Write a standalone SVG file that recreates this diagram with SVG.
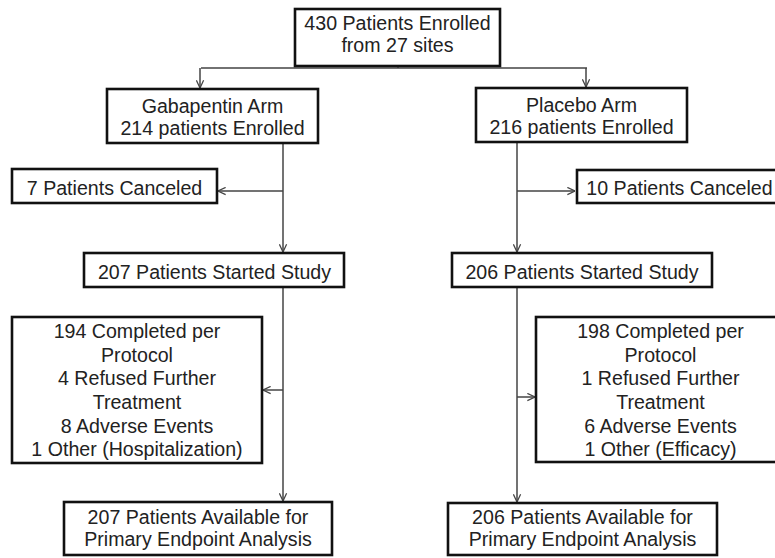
<svg xmlns="http://www.w3.org/2000/svg" width="775" height="558" viewBox="0 0 775 558">
<defs>
<style>
.box{fill:#fff;stroke:#111;stroke-width:2.6}
.t{font-family:"Liberation Sans",Arial,sans-serif;font-size:19.6px;fill:#222;text-anchor:middle}
.c{fill:none;stroke:#444;stroke-width:1.5}
</style>
<marker id="ah" viewBox="0 0 10 10" refX="9.5" refY="5" markerWidth="9" markerHeight="9" markerUnits="userSpaceOnUse" orient="auto">
<path d="M1,1 L9.5,5 L1,9" fill="none" stroke="#444" stroke-width="1.4"/>
</marker>
</defs>
<rect width="775" height="558" fill="#fff"/>
<g id="connectors">
<path class="c" d="M398,66 V68 M201,68 H587"/>
<path class="c" d="M200,68 V88" marker-end="url(#ah)"/>
<path class="c" d="M586,68 V87" marker-end="url(#ah)"/>
<path class="c" d="M283,143 V252" marker-end="url(#ah)"/>
<path class="c" d="M283,191 H218" marker-end="url(#ah)"/>
<path class="c" d="M517,142 V252" marker-end="url(#ah)"/>
<path class="c" d="M517,191 H575" marker-end="url(#ah)"/>
<path class="c" d="M283,287 V501" marker-end="url(#ah)"/>
<path class="c" d="M283,390 H263" marker-end="url(#ah)"/>
<path class="c" d="M517,287 V502" marker-end="url(#ah)"/>
<path class="c" d="M517,397 H535" marker-end="url(#ah)"/>
</g>
<g id="enrolled">
<rect class="box" x="295" y="9" width="205" height="57"/>
<text class="t" x="397.5" y="30">430 Patients Enrolled</text>
<text class="t" x="397.5" y="52">from 27 sites</text>
</g>
<g id="gabapentin">
<rect class="box" x="107" y="89" width="211" height="54"/>
<text class="t" x="212.5" y="112.5">Gabapentin Arm</text>
<text class="t" x="212.5" y="134.5">214 patients Enrolled</text>
</g>
<g id="placebo">
<rect class="box" x="476" y="88" width="211" height="54"/>
<text class="t" x="581.5" y="111.5">Placebo Arm</text>
<text class="t" x="581.5" y="133.5">216 patients Enrolled</text>
</g>
<g id="canceled-left">
<rect class="box" x="12" y="169" width="205" height="34"/>
<text class="t" x="114.5" y="194.5">7 Patients Canceled</text>
</g>
<g id="canceled-right">
<rect class="box" x="577" y="170" width="210" height="33"/>
<text class="t" x="679.5" y="194.5">10 Patients Canceled</text>
</g>
<g id="started-left">
<rect class="box" x="84" y="253" width="260" height="34"/>
<text class="t" x="214.5" y="278.5">207 Patients Started Study</text>
</g>
<g id="started-right">
<rect class="box" x="452" y="253" width="260" height="34"/>
<text class="t" x="582" y="278.5">206 Patients Started Study</text>
</g>
<g id="outcome-left">
<rect class="box" x="12" y="317" width="250" height="146"/>
<text class="t" x="137" y="338">194 Completed per</text>
<text class="t" x="137" y="361.7">Protocol</text>
<text class="t" x="137" y="385.4">4 Refused Further</text>
<text class="t" x="137" y="409">Treatment</text>
<text class="t" x="137" y="432.6">8 Adverse Events</text>
<text class="t" x="137" y="456.3">1 Other (Hospitalization)</text>
</g>
<g id="outcome-right">
<rect class="box" x="536" y="317" width="250" height="145"/>
<text class="t" x="660.5" y="338">198 Completed per</text>
<text class="t" x="660.5" y="361.7">Protocol</text>
<text class="t" x="660.5" y="385.4">1 Refused Further</text>
<text class="t" x="660.5" y="409">Treatment</text>
<text class="t" x="660.5" y="432.6">6 Adverse Events</text>
<text class="t" x="660.5" y="456.3">1 Other (Efficacy)</text>
</g>
<g id="available-left">
<rect class="box" x="64" y="502" width="268" height="53"/>
<text class="t" x="198" y="524">207 Patients Available for</text>
<text class="t" x="198" y="546">Primary Endpoint Analysis</text>
</g>
<g id="available-right">
<rect class="box" x="448" y="503" width="269" height="52"/>
<text class="t" x="582.5" y="524">206 Patients Available for</text>
<text class="t" x="582.5" y="546">Primary Endpoint Analysis</text>
</g>
</svg>
